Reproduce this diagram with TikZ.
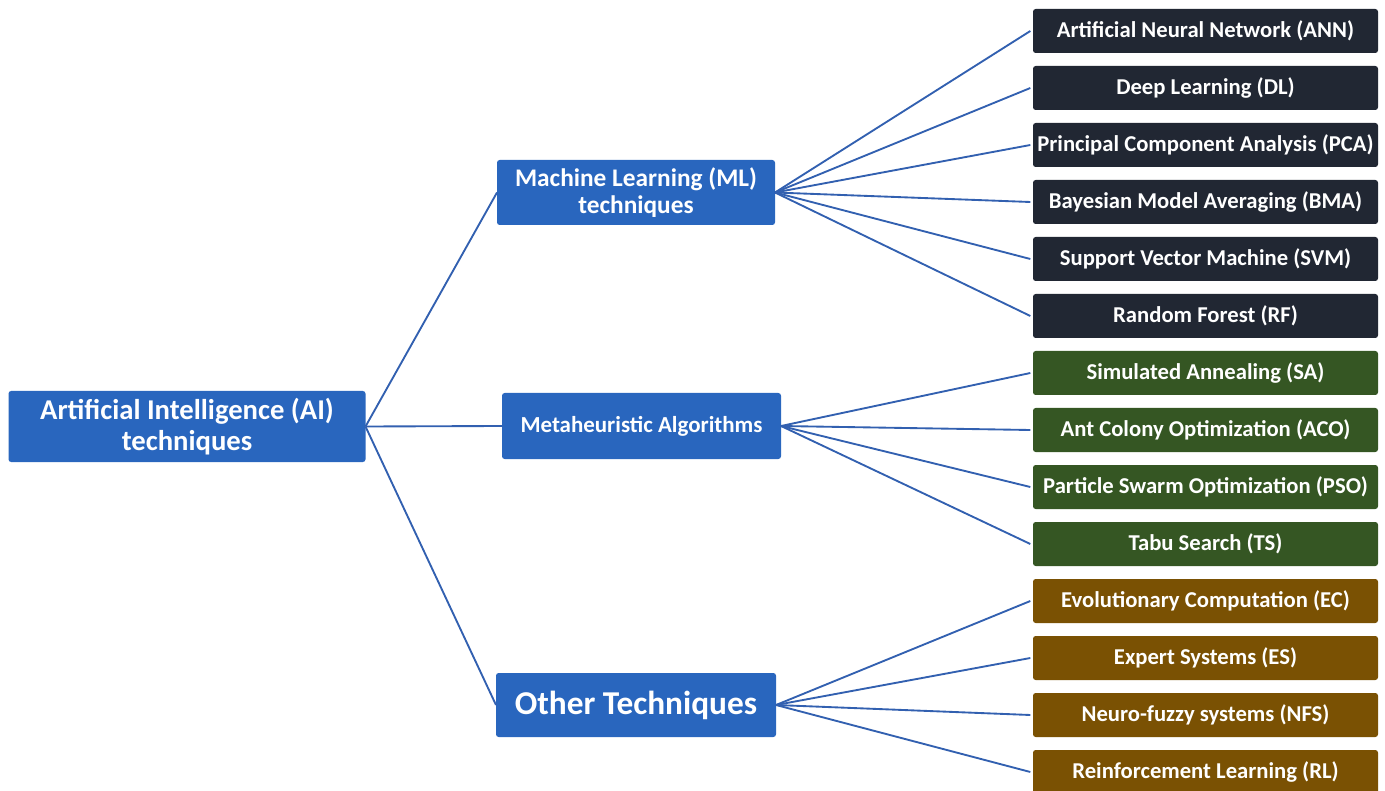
\documentclass[tikz,border=0pt]{standalone}
\usepackage{fontspec}
\setmainfont{Carlito}
\usetikzlibrary{positioning}
\definecolor{aiblue}{RGB}{41,102,190}
\definecolor{linkblue}{RGB}{50,96,176}
\definecolor{mldark}{RGB}{33,39,51}
\definecolor{magreen}{RGB}{53,86,35}
\definecolor{otbrown}{RGB}{122,81,3}

\begin{document}
\begin{tikzpicture}[x=0.75pt,y=-0.75pt,
  box/.style={rounded corners=2pt,text=white,align=center,inner sep=0pt,outer sep=0pt},
  topic/.style={box,fill=aiblue},
  leaf/.style={box,minimum width=258.75pt,minimum height=33pt,font=\bfseries\fontsize{17}{20}\selectfont},
  mlleaf/.style={leaf,fill=mldark},
  maleaf/.style={leaf,fill=magreen},
  otleaf/.style={leaf,fill=otbrown},
  link/.style={draw=linkblue,line width=1.4pt},
  node distance=9.75pt]
  \useasboundingbox (0,0) rectangle (1385,791);
  \clip (0,0) rectangle (1385,791);

  \node[topic,minimum width=267.75pt,minimum height=53.25pt,font=\bfseries\fontsize{21.5}{23}\selectfont] (ai) at (187,426.5) {Artificial Intelligence (AI)\\techniques};
  \node[topic,minimum width=208.5pt,minimum height=48.75pt,font=\bfseries\fontsize{19}{20}\selectfont] (ml) at (636,192.5) {Machine Learning (ML)\\techniques};
  \node[topic,minimum width=209.25pt,minimum height=49.5pt,font=\bfseries\fontsize{17.2}{20}\selectfont] (ma) at (641.5,426) {Metaheuristic Algorithms};
  \node[topic,minimum width=210pt,minimum height=48pt,font=\bfseries\fontsize{25}{28}\selectfont] (ot) at (636,705) {Other Techniques};

  \node[mlleaf] (ann) at (1205.5,31) {Artificial Neural Network (ANN)};
  \node[mlleaf] (dl) [below=of ann] {Deep Learning (DL)};
  \node[mlleaf] (pca) [below=of dl] {Principal Component Analysis (PCA)};
  \node[mlleaf] (bma) [below=of pca] {Bayesian Model Averaging (BMA)};
  \node[mlleaf] (svm) [below=of bma] {Support Vector Machine (SVM)};
  \node[mlleaf] (rf) [below=of svm] {Random Forest (RF)};
  \node[maleaf] (sa) [below=of rf] {Simulated Annealing (SA)};
  \node[maleaf] (aco) [below=of sa] {Ant Colony Optimization (ACO)};
  \node[maleaf] (pso) [below=of aco] {Particle Swarm Optimization (PSO)};
  \node[maleaf] (ts) [below=of pso] {Tabu Search (TS)};
  \node[otleaf] (ec) [below=of ts] {Evolutionary Computation (EC)};
  \node[otleaf] (es) [below=of ec] {Expert Systems (ES)};
  \node[otleaf] (nfs) [below=of es] {Neuro-fuzzy systems (NFS)};
  \node[otleaf] (rl) [below=of nfs] {Reinforcement Learning (RL)};

 \path[link]
  (ai.east)
    edge (ml.west)
    edge (ma.west)
    edge (ot.west)
  (ml.east)
    edge ([xshift=-2pt]ann.west)
    edge ([xshift=-2pt]dl.west)
    edge ([xshift=-2pt]pca.west)
    edge ([xshift=-2pt]bma.west)
    edge ([xshift=-2pt]svm.west)
    edge ([xshift=-2pt]rf.west)
  (ma.east)
    edge ([xshift=-2pt]sa.west)
    edge ([xshift=-2pt]aco.west)
    edge ([xshift=-2pt]pso.west)
    edge ([xshift=-2pt]ts.west)
  (ot.east)
    edge ([xshift=-2pt]ec.west)
    edge ([xshift=-2pt]es.west)
    edge ([xshift=-2pt]nfs.west)
    edge ([xshift=-2pt]rl.west);

\end{tikzpicture}
\end{document}
